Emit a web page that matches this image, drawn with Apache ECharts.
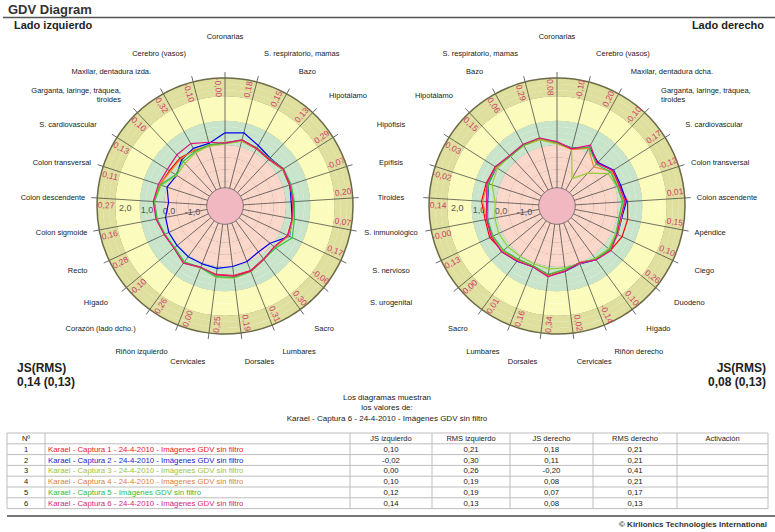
<!DOCTYPE html>
<html><head><meta charset="utf-8">
<script src="https://cdn.jsdelivr.net/npm/echarts@6/dist/echarts.min.js"></script>
<style>html,body{margin:0;padding:0;background:#fff}#c{width:775px;height:532px}</style>
</head><body><div id="c"></div>
<script>
// ---------- DATA ----------
const catsLeft = ['Coronarias','S. respiratorio, mamas','Bazo','Hipotálamo','Hipófisis','Epífisis','Tiroides','S. inmunológico','S. nervioso','S. urogenital','Sacro','Lumbares','Dorsales','Cervicales','Riñón izquierdo','Corazón (lado dcho.)','Hígado','Recto','Colon sigmoide','Colon descendente','Colon transversal','S. cardiovascular','Garganta, laringe, tráquea,\ntiroides','Maxilar, dentadura izda.','Cerebro (vasos)'];
const catsRight = ['Coronarias','S. respiratorio, mamas','Bazo','Hipotálamo','Hipófisis','Epífisis','Tiroides','S. inmunológico','S. nervioso','S. urogenital','Sacro','Lumbares','Dorsales','Cervicales','Riñón derecho','Hígado','Duodeno','Ciego','Apéndice','Colon ascendente','Colon transversal','S. cardiovascular','Garganta, laringe, tráquea,\ntiroides','Maxilar, dentadura dcha.','Cerebro (vasos)'];
const sharedIdx = [4, 5, 6, 7, 8, 9]; // labels shared by both diagrams (middle column)

const bandLeft = ['-0,00','0,18','0,15','0,13','0,29','-0,07','0,20','0,07','0,17','-0,06','0,30','0,31','0,19','0,25','0,00','0,26','-0,10','0,28','0,16','0,27','0,11','0,13','0,10','0,32','-0,10'];
const bandRight = ['0,08','0,29','0,06','0,15','0,03','-0,02','0,14','-0,00','0,13','0,00','0,01','0,16','0,34','0,02','-0,14','0,10','0,26','0,10','0,15','0,01','-0,12','0,17','-0,10','0,20','-0,10'];

const radiusTicks = [2, 1, 0, -1];
const radiusTickText = ['2,0', '1,0', '0,0', '-1,0'];

// series values in category order (left: clockwise, right: counter-clockwise from Coronarias)
const left1 = [0.10,0.25,0.18,0.12,0.30,0.28,0.30,0.32,0.33,0.15,0.18,0.35,0.38,0.33,0.22,0.38,0.20,0.25,0.35,0.42,0.30,0.20,0.20,0.10,0.05];
const left2 = [0.50,0.60,0.33,0.20,0.33,0.30,0.22,0.30,0.42,-0.10,-0.17,-0.05,0.00,0.08,0.05,0.07,0.05,0.05,-0.02,-0.18,0.00,-0.15,0.10,0.20,0.15];
const left3 = [0.05,0.25,0.20,0.15,0.30,0.35,0.32,0.35,0.40,0.15,0.20,0.40,0.48,0.45,0.22,0.35,0.20,0.22,0.35,0.40,0.25,-0.15,-0.10,0.00,0.05];
const left4 = [0.10,0.28,0.20,0.15,0.32,0.30,0.30,0.32,0.35,0.15,0.22,0.38,0.40,0.35,0.20,0.37,0.20,0.25,0.36,0.42,0.32,0.15,0.15,0.12,0.08];
const left5 = [0.08,0.30,0.22,0.18,0.35,0.35,0.35,0.40,0.55,0.20,0.20,0.38,0.45,0.42,0.22,0.33,0.18,0.22,0.33,0.40,0.30,-0.10,0.00,0.05,0.10];
const left6 = [0.08,0.30,0.20,0.14,0.33,0.30,0.30,0.30,0.35,0.12,0.20,0.37,0.40,0.35,0.20,0.40,0.22,0.25,0.38,0.45,0.37,0.30,0.38,0.42,0.20];

const right1 = [0.10,0.35,0.36,0.30,0.50,0.55,0.60,0.50,0.55,0.40,0.22,0.15,0.35,0.15,0.00,0.20,0.35,0.45,0.45,0.40,0.20,0.20,-0.05,0.25,-0.10];
const right2 = [0.10,0.35,0.36,0.32,0.45,0.45,0.35,0.40,0.45,0.44,0.30,0.18,0.38,0.20,0.05,0.22,0.30,0.25,0.20,0.35,0.25,0.25,-0.05,0.25,-0.05];
const right3 = [0.05,0.30,0.32,0.30,0.40,0.30,0.04,0.10,0.14,0.12,0.06,0.06,0.10,0.06,0.05,0.15,0.25,0.15,0.10,0.20,0.10,-0.02,-0.65,-1.22,-0.08];
const right4 = [0.08,0.35,0.35,0.30,0.45,0.50,0.55,0.45,0.45,0.40,0.25,0.15,0.38,0.15,0.00,0.20,0.32,0.25,0.18,0.25,0.12,0.15,-0.30,0.20,-0.10];
const right5 = [0.10,0.38,0.35,0.30,0.48,0.45,0.38,0.40,0.40,0.35,0.20,0.15,0.32,0.12,0.02,0.20,0.30,0.20,0.08,0.20,0.10,0.10,-0.15,0.25,-0.05];
const right6 = [0.14,0.38,0.39,0.34,0.50,0.52,0.40,0.44,0.48,0.45,0.29,0.19,0.42,0.19,0.02,0.23,0.37,0.22,0.15,0.30,0.18,0.23,-0.10,0.35,-0.08];

const rowNames = ['Karael - Captura 1 - 24-4-2010 - Imágenes GDV sin filtro','Karael - Captura 2 - 24-4-2010 - Imágenes GDV sin filtro','Karael - Captura 3 - 24-4-2010 - Imágenes GDV sin filtro','Karael - Captura 4 - 24-4-2010 - Imágenes GDV sin filtro','Karael - Captura 5 - Imágenes GDV sin filtro','Karael - Captura 6 - 24-4-2010 - Imágenes GDV sin filtro'];
const jsIzq = ['0,10','-0,02','0,00','0,10','0,12','0,14'];
const rmsIzq = ['0,21','0,30','0,26','0,19','0,19','0,13'];
const jsDer = ['0,18','0,11','-0,20','0,08','0,07','0,08'];
const rmsDer = ['0,21','0,21','0,41','0,21','0,17','0,13'];
const tableHeader = ['Nº','','JS izquierdo','RMS izquierdo','JS derecho','RMS derecho','Activación'];

// ---------- STYLE / SCALE ----------
const N = catsLeft.length;
const RMIN = -2.5, RMAX = 2.75, RSTEP = 0.25;
const CL = [225, 206], CR = [557, 206], RAD = 128;
const MIDX = (CL[0] + CR[0]) / 2;
const bandEdges = [-1.75, 0, 1, 2];
const bandColors = ['#f1b8c2', '#fbd7c9', '#c8e5cb', '#fbfbbb', '#dfdf9e'];
const ringValues = [-1.75, -1.5, -1, -0.5, 0, 1, 2];
const DISK = -1.75, LABEL_R = 2.375;
const lineColors = ['#ff0000', '#0000f0', '#9ccc38', '#f08a24', '#33c24a', '#e4127e'];
const rowColors = ['#f01818', '#1a1ad0', '#9cc43c', '#e0813a', '#2fba3c', '#d82478'];
const FONT = "'Liberation Sans', Arial, sans-serif";
const NARROW = "'Liberation Sans Narrow', 'Liberation Sans', Arial, sans-serif";
const clamp01 = t => Math.max(0, Math.min(1, t));
// distance (px) of the category names from the centre, depending on the direction
const nameDist = ac => 140 + 12 * clamp01((ac - 0.3) / 0.12) + 5 * clamp01((ac - 0.85) / 0.1);

const nInt = Math.round((RMAX - RMIN) / RSTEP);
const areaCols = [], splitCols = [];
for (let j = 0; j < nInt; j++) {
  const mid = RMIN + (j + 0.5) * RSTEP;
  areaCols.push(bandColors[bandEdges.filter(e => e < mid).length]);
}
for (let k = 0; k <= nInt; k++) {
  const v = RMIN + k * RSTEP;
  splitCols.push(ringValues.some(r => Math.abs(r - v) < 1e-6) ? '#5a5a5a' : 'rgba(0,0,0,0)');
}

function angleAxis(p, clockwise) {
  return { polarIndex: p, type: 'value', min: 0, max: N, interval: 1, startAngle: 90, clockwise,
    axisLine: { lineStyle: { color: '#6a6a48', width: 1.5 } },
    axisTick: { show: true, length: 6, lineStyle: { color: '#444', width: 0.8 } },
    axisLabel: { show: false },
    splitLine: { show: true, lineStyle: { color: '#3a3a3a', width: 0.7 } } };
}
function radiusAxis(p) {
  return { polarIndex: p, type: 'value', min: RMIN, max: RMAX, interval: RSTEP,
    axisLine: { show: false }, axisTick: { show: false }, axisLabel: { show: false },
    splitLine: { show: true, lineStyle: { color: splitCols, width: 0.8 } },
    splitArea: { show: true, areaStyle: { color: areaCols } } };
}
function diskSeries(p) {
  return { type: 'custom', coordinateSystem: 'polar', polarIndex: p, silent: true, z: 1,
    data: [[DISK, 0]],
    renderItem(params, api) {
      const c = api.coord([RMIN, 0]);
      const e = api.coord([api.value(0), api.value(1)]);
      return { type: 'circle', shape: { cx: c[0], cy: c[1], r: Math.hypot(e[0] - c[0], e[1] - c[1]) },
        style: { fill: bandColors[0], stroke: '#666', lineWidth: 0.8 } };
    } };
}
function bandLabelSeries(p, labels) {
  return { type: 'custom', coordinateSystem: 'polar', polarIndex: p, silent: true, z: 3,
    data: labels.map((t, i) => [LABEL_R, i]),
    renderItem(params, api) {
      const c = api.coord([RMIN, api.value(1)]);
      const q = api.coord([api.value(0), api.value(1)]);
      const dx = q[0] - c[0], dy = q[1] - c[1];
      const d = 3.2 * Math.PI / 180;
      const x = dx * Math.cos(d) + dy * Math.sin(d);
      const y = -dx * Math.sin(d) + dy * Math.cos(d);
      const phi = Math.atan2(x, -y);
      let rot = Math.PI / 2 - phi;
      if (Math.sin(phi) < -1e-6) rot += Math.PI;
      return { type: 'text', x: c[0] + x, y: c[1] + y, rotation: rot,
        style: { text: labels[params.dataIndex], fill: '#d03c6c', fontSize: 8.5, fontFamily: FONT,
          align: 'center', verticalAlign: 'middle' } };
    } };
}
function nameSeries(p, cats, skip, shared) {
  return { type: 'custom', coordinateSystem: 'polar', polarIndex: p, silent: true, z: 3,
    data: cats.map((t, i) => [RMAX, i]),
    renderItem(params, api) {
      const i = params.dataIndex;
      if (skip.includes(i)) return null;
      const c = api.coord([RMIN, api.value(1)]);
      const q = api.coord([api.value(0), api.value(1)]);
      const ux = (q[0] - c[0]) / RAD, uy = (q[1] - c[1]) / RAD;
      const dist = nameDist(Math.abs(uy));
      let x = c[0] + ux * dist, y = c[1] + uy * dist, align, va = 'middle';
      if (shared.includes(i)) { x = MIDX; align = 'center'; }
      else if (ux > 0.01) align = 'left';
      else if (ux < -0.01) align = 'right';
      else { align = 'center'; va = uy < 0 ? 'bottom' : 'top'; y += uy < 0 ? -8 : 0; }
      return { type: 'text', x, y,
        style: { text: cats[i], fill: '#1a1a1a', fontSize: 7.5, fontFamily: FONT, lineHeight: 9,
          align, verticalAlign: va } };
    } };
}
function tickLabelSeries(p, idx) {
  return { type: 'custom', coordinateSystem: 'polar', polarIndex: p, silent: true, z: 3,
    data: radiusTicks.map(v => [v * 0.9 + 0.1, idx]),
    renderItem(params, api) {
      const q = api.coord([api.value(0), api.value(1)]);
      return { type: 'text', x: q[0] + 1, y: q[1] + 9,
        style: { text: radiusTickText[params.dataIndex], fill: '#555', fontSize: 9, fontFamily: FONT,
          align: 'left', verticalAlign: 'middle' } };
    } };
}
function lineSeries(p, vals, k) {
  const closed = vals.concat([vals[0]]);
  return { type: 'line', coordinateSystem: 'polar', polarIndex: p, symbol: 'none', z: 4, silent: true,
    data: closed.map((v, i) => [v, i]),
    lineStyle: { color: lineColors[k], width: 1.2 }, itemStyle: { color: lineColors[k] } };
}

// ---------- GRAPHIC (titles & table) ----------
const g = [];
function txt(x, y, text, opt) {
  g.push({ type: 'text', x, y, silent: true,
    style: Object.assign({ text, fill: '#222', fontSize: 8, fontFamily: FONT, align: 'left', verticalAlign: 'middle' }, opt || {}) });
}
function ln(x1, y1, x2, y2, color, w) {
  g.push({ type: 'line', silent: true, shape: { x1, y1, x2, y2 }, style: { stroke: color, lineWidth: w } });
}
txt(8, 9, 'GDV Diagram', { fontSize: 13, fontWeight: 'bold', fill: '#333' });
ln(3, 17.5, 775, 17.5, '#555', 1.5);
txt(14, 25, 'Lado izquierdo', { fontSize: 11, fontWeight: 'bold', fill: '#222' });
txt(764, 25, 'Lado derecho', { fontSize: 11, fontWeight: 'bold', fill: '#222', align: 'right' });
txt(17, 368, 'JS(RMS)', { fontSize: 12, fontWeight: 'bold', fontFamily: NARROW });
txt(17, 382, '0,14 (0,13)', { fontSize: 12, fontWeight: 'bold', fontFamily: NARROW });
txt(766, 368, 'JS(RMS)', { fontSize: 12, fontWeight: 'bold', fontFamily: NARROW, align: 'right' });
txt(766, 382, '0,08 (0,13)', { fontSize: 12, fontWeight: 'bold', fontFamily: NARROW, align: 'right' });
txt(387, 397, 'Los diagramas muestran', { align: 'center' });
txt(387, 407.5, 'los valores de:', { align: 'center' });
txt(387, 418, 'Karael - Captura 6 - 24-4-2010 - Imágenes GDV sin filtro', { align: 'center' });

const cols = [7, 45, 350, 432, 510, 593, 677, 768];
const tTop = 433, rowH = 10.8, nRows = rowNames.length + 1;
for (let i = 0; i <= nRows; i++) ln(cols[0], tTop + i * rowH, cols[cols.length - 1], tTop + i * rowH, '#bdbdbd', 1);
cols.forEach(x => ln(x, tTop, x, tTop + nRows * rowH, '#bdbdbd', 1));
const cx = k => (cols[k] + cols[k + 1]) / 2;
tableHeader.forEach((h, k) => { if (h) txt(cx(k), tTop + rowH / 2, h, { align: 'center', fontSize: 7.5 }); });
rowNames.forEach((nm, i) => {
  const y = tTop + (i + 1.5) * rowH;
  txt(cx(0), y, String(i + 1), { align: 'center', fontSize: 7.5 });
  txt(cols[1] + 3, y, nm, { fill: rowColors[i], fontSize: 7.8 });
  [jsIzq, rmsIzq, jsDer, rmsDer].forEach((arr, k) => txt(cx(k + 2), y, arr[i], { align: 'center', fontSize: 7.8 }));
});
ln(7, 516, 775, 516, '#777', 2);
txt(767, 524, '© Kirlionics Technologies International', { align: 'right', fontWeight: 'bold', fontSize: 8, fill: '#333' });

// ---------- CHART ----------
const chart = echarts.init(document.getElementById('c'), null, { renderer: 'svg' });
const leftSets = [left1, left2, left3, left4, left5, left6];
const rightSets = [right1, right2, right3, right4, right5, right6];
chart.setOption({
  animation: false,
  backgroundColor: '#fff',
  polar: [{ center: CL, radius: RAD }, { center: CR, radius: RAD }],
  angleAxis: [angleAxis(0, true), angleAxis(1, false)],
  radiusAxis: [radiusAxis(0), radiusAxis(1)],
  series: [
    diskSeries(0), diskSeries(1),
    bandLabelSeries(0, bandLeft), bandLabelSeries(1, bandRight),
    nameSeries(0, catsLeft, [], sharedIdx), nameSeries(1, catsRight, sharedIdx, []),
    tickLabelSeries(0, 19), tickLabelSeries(1, 6)
  ].concat(leftSets.map((s, k) => lineSeries(0, s, k)), rightSets.map((s, k) => lineSeries(1, s, k))),
  graphic: g
});
</script></body></html>
